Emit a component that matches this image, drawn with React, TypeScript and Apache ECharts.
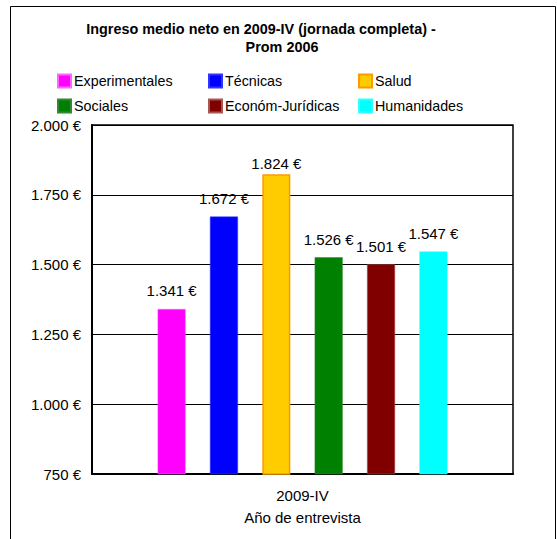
import React, { useEffect, useRef } from "react";
import * as echarts from "echarts";

const categories = ["2009-IV"];
const seriesNames = ["Experimentales", "Técnicas", "Salud", "Sociales", "Económ-Jurídicas", "Humanidades"];
const seriesValues = [1341, 1672, 1824, 1526, 1501, 1547];
const seriesColors = ["#FF00FF", "#0000FF", "#FFCC00", "#008000", "#800000", "#00FFFF"];
const seriesBorders = ["#FF66FF", "#3333FF", "#FF9900", "#338833", "#aa5555", "#33FFFF"];
const labelDistances = [11, 10.5, 3.5, 10, 10, 10.5];
const yMin = 750;
const yMax = 2000;
const yInterval = 250;
const titleLine1 = "Ingreso medio neto en 2009-IV (jornada completa) -";
const titleLine2 = "Prom 2006";
const xAxisName = "Año de entrevista";

const FONT = '"Liberation Sans", Arial, sans-serif';

function fmtEuro(v: number): string {
  const s = Math.round(v).toString();
  const withDots = s.replace(/\B(?=(\d{3})+(?!\d))/g, ".");
  return withDots + " €";
}

export default function App() {
  const ref = useRef<HTMLDivElement>(null);
  useEffect(() => {
    document.body.style.margin = "0";
    if (!ref.current) return;
    const chart = echarts.init(ref.current, undefined, { renderer: "svg" });
    const legendCols = [
      { left: 57, names: [seriesNames[0], seriesNames[3]] },
      { left: 208, names: [seriesNames[1], seriesNames[4]] },
      { left: 358, names: [seriesNames[2], seriesNames[5]] },
    ];
    chart.setOption({
      animation: false,
      backgroundColor: "#ffffff",
      textStyle: { fontFamily: FONT },
      graphic: [
        {
          type: "rect",
          shape: { x: 10.5, y: 6.5, width: 545, height: 540 },
          style: { fill: "none", stroke: "#000", lineWidth: 1 },
          silent: true,
        },
        {
          type: "text",
          x: 261,
          y: 29,
          style: {
            text: titleLine1,
            font: `bold 14.4px ${FONT}`,
            textAlign: "center",
            textVerticalAlign: "middle",
            fill: "#000",
          },
        },
        {
          type: "text",
          x: 282,
          y: 47,
          style: {
            text: titleLine2,
            font: `bold 14.4px ${FONT}`,
            textAlign: "center",
            textVerticalAlign: "middle",
            fill: "#000",
          },
        },
      ],
      legend: legendCols.map((c) => ({
        data: c.names,
        left: c.left,
        top: 73.5,
        orient: "vertical",
        padding: 0,
        itemWidth: 13,
        itemHeight: 13,
        itemGap: 10,
        icon: "rect",
        textStyle: { fontSize: 14.3, color: "#000", fontFamily: FONT, padding: [0, 0, 0, -2] },
      })),
      grid: {
        left: 92,
        top: 125,
        right: 44,
        bottom: 65,
        show: true,
        borderColor: "#000",
        borderWidth: 1.5,
        containLabel: false,
      },
      xAxis: {
        type: "category",
        data: categories,
        axisLine: { show: true, lineStyle: { color: "#000", width: 2 } },
        axisTick: { show: false },
        axisLabel: { color: "#000", fontSize: 15, margin: 14, fontFamily: FONT },
        name: xAxisName,
        nameLocation: "middle",
        nameGap: 36,
        nameTextStyle: { color: "#000", fontSize: 15, fontFamily: FONT },
      },
      yAxis: {
        type: "value",
        min: yMin,
        max: yMax,
        interval: yInterval,
        axisLine: { show: true, lineStyle: { color: "#000", width: 2 } },
        axisTick: { show: false },
        axisLabel: {
          color: "#000",
          fontSize: 15,
          margin: 11,
          fontFamily: FONT,
          formatter: (v: number) => fmtEuro(v),
        },
        splitLine: { show: true, lineStyle: { color: "#000", width: 1 } },
      },
      series: seriesNames.map((name, i) => ({
        type: "bar",
        name,
        data: [seriesValues[i]],
        barWidth: 28,
        barGap: "87%",
        itemStyle: {
          color: seriesColors[i],
          borderColor: seriesBorders[i],
          borderWidth: i === 2 ? 1.5 : 0.5,
        },
        label: {
          show: true,
          position: "top",
          distance: labelDistances[i],
          color: "#000",
          fontSize: 15,
          fontFamily: FONT,
          formatter: (p: any) => fmtEuro(p.value),
        },
      })),
    });
    return () => chart.dispose();
  }, []);
  return <div ref={ref} style={{ width: 557, height: 539 }} />;
}
